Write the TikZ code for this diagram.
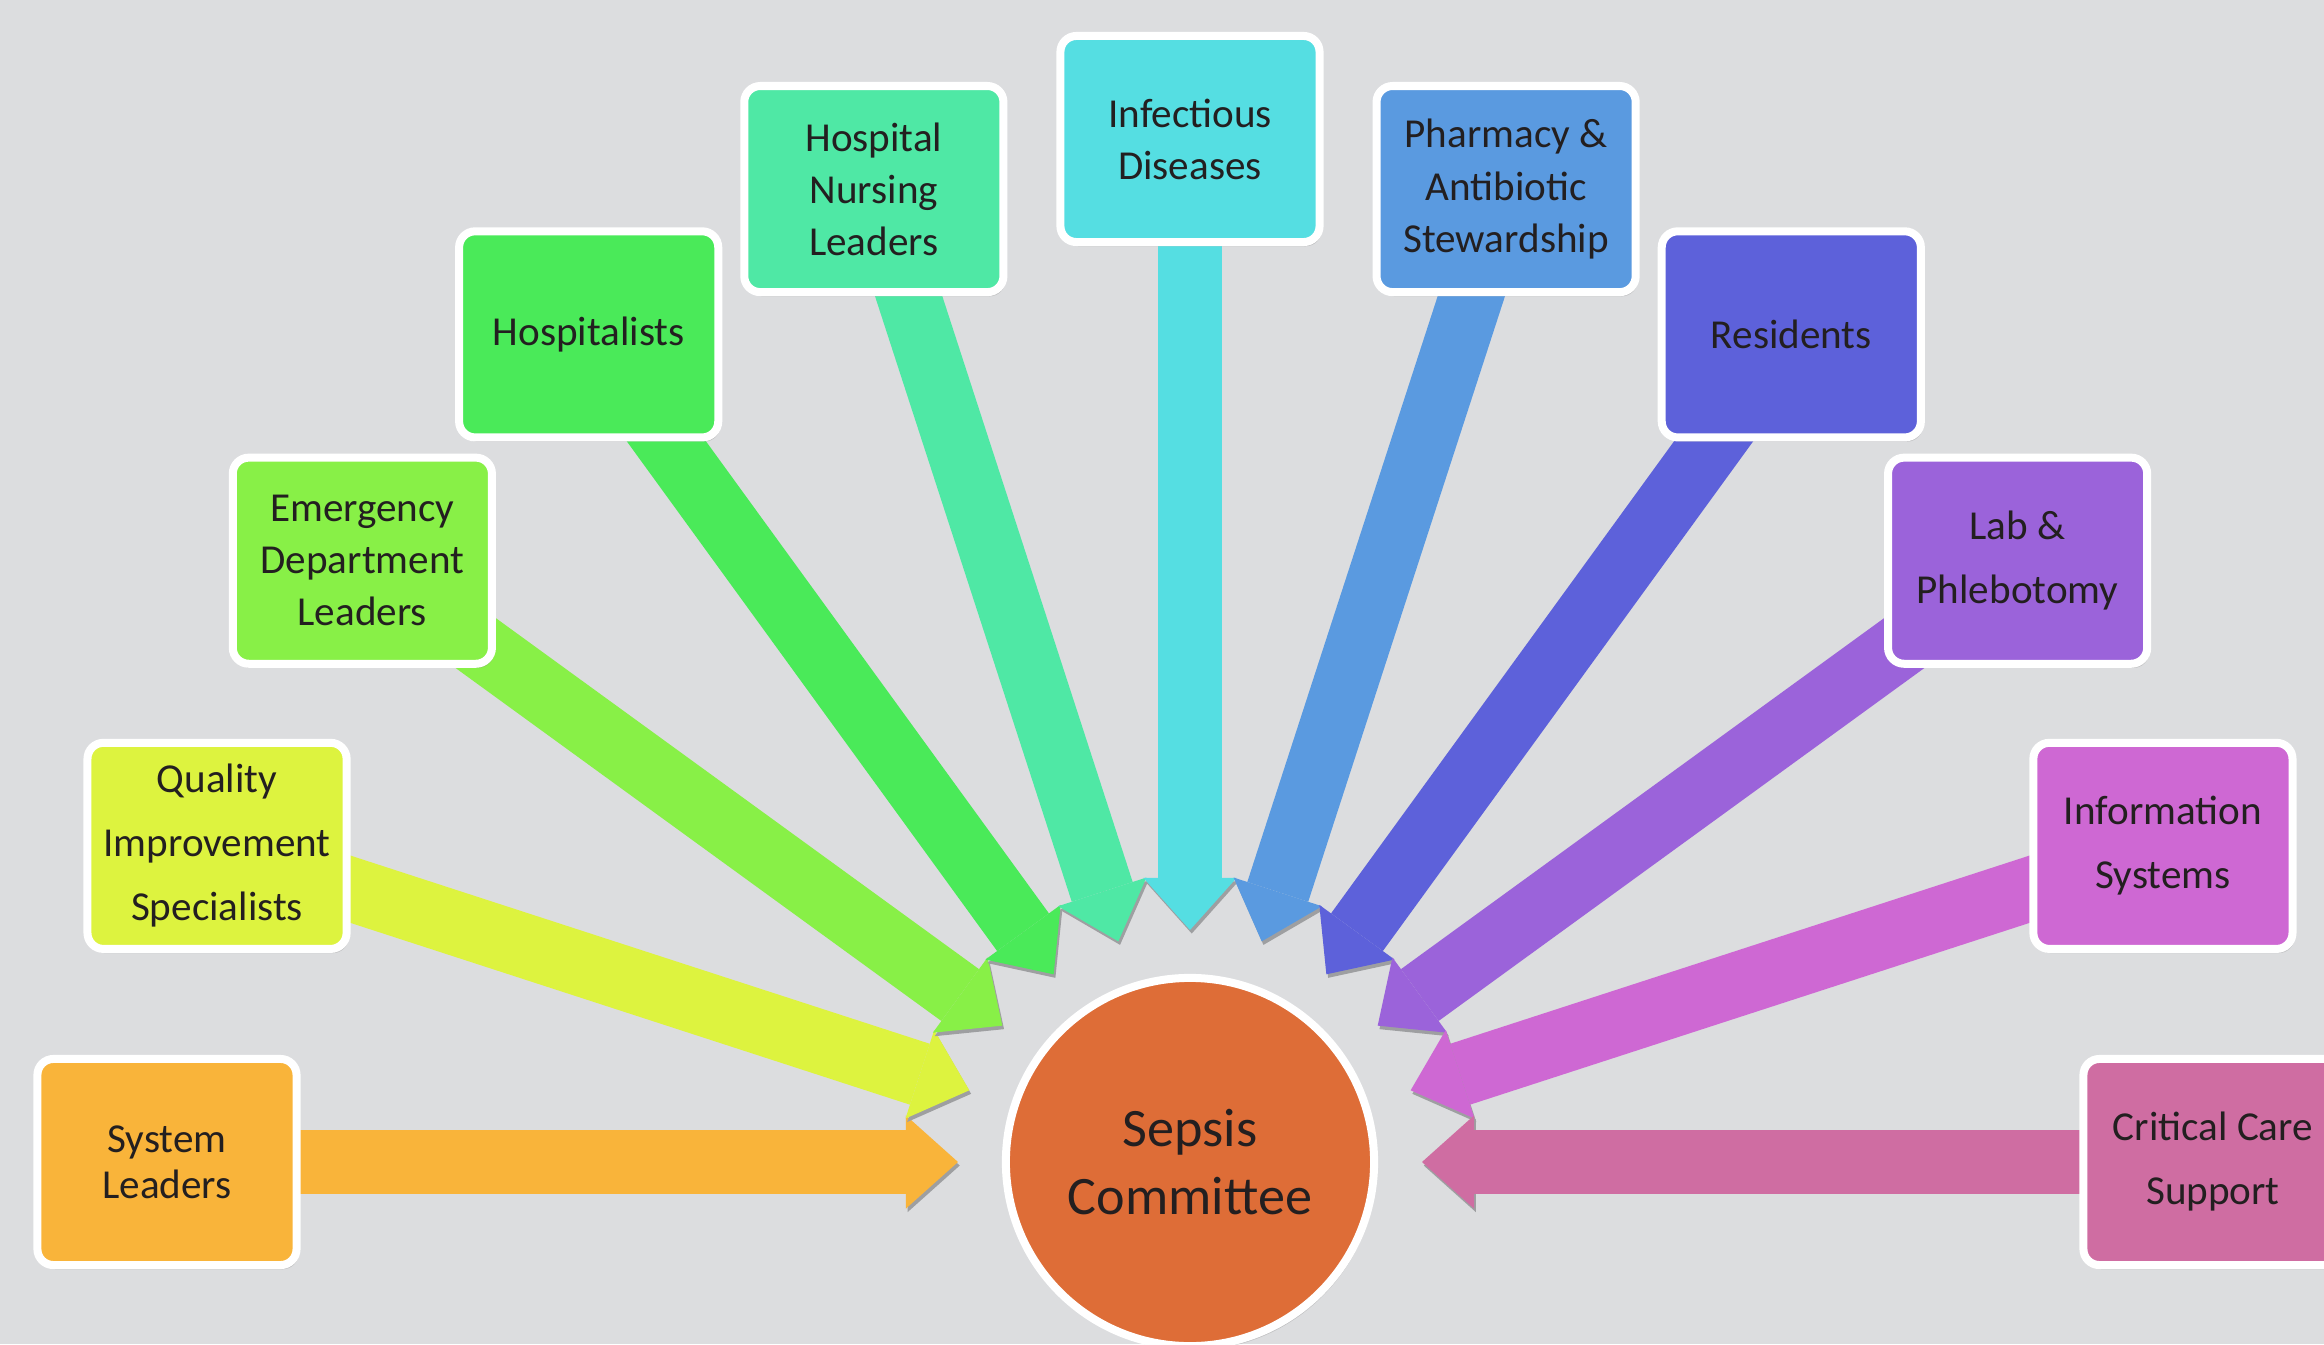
\documentclass[tikz,border=0pt]{standalone}
\usepackage{fontspec}
\setmainfont{Carlito}
\usetikzlibrary{arrows.meta,positioning,calc,shadows,backgrounds}

\definecolor{bgcol}{HTML}{DCDDDF}
\definecolor{txtcol}{HTML}{231F20}
\definecolor{sepsiscol}{HTML}{DE6D37}
\definecolor{syscol}{HTML}{F9B43A}
\definecolor{qualcol}{HTML}{DDF33F}
\definecolor{edcol}{HTML}{88F047}
\definecolor{hospcol}{HTML}{4AEA59}
\definecolor{nurscol}{HTML}{4FE8A5}
\definecolor{infcol}{HTML}{55DEE2}
\definecolor{pharmcol}{HTML}{5A9AE0}
\definecolor{rescol}{HTML}{5D61DA}
\definecolor{labcol}{HTML}{9B63DA}
\definecolor{infocol}{HTML}{CE68D3}
\definecolor{critcol}{HTML}{CF6DA2}

\begin{document}
\begin{tikzpicture}[x=0.01cm,y=0.01cm]
\tikzstyle{group} = [draw=white, line width=0.08cm, rounded corners=0.16cm, minimum width=2.59cm, minimum height=2.06cm, inner sep=0pt, align=center, text=txtcol, font=\fontsize{11.7}{14.8}\selectfont, drop shadow={shadow xshift=0.6pt, shadow yshift=-1.2pt, opacity=.3}]
\tikzstyle{roomy} = [font=\fontsize{11.7}{18.2}\selectfont] % the looser boxes
\tikzset{feed/.style={line width=0.64cm, -{Triangle[length=0.52cm, width=0.93cm, line width=0pt]},
  preaction={draw=bgcol!72!black, transform canvas={shift={(0.5pt,-1pt)}}}}}

\useasboundingbox (-1190,-182) rectangle (1134,1162);

\node[circle, draw=white, line width=0.08cm, fill=sepsiscol, minimum size=3.68cm, inner sep=0pt, align=center, text=txtcol, font=\fontsize{15.4}{19.1}\selectfont, drop shadow={shadow xshift=0.6pt, shadow yshift=-1.2pt, opacity=.3}] (sepsis) at (0,0) {Sepsis\\Committee};

% boxes on a half ring round the committee
\node[group, fill=syscol, font=\fontsize{11.7}{13.1}\selectfont] (sys) at (180:1023) {System\\Leaders};
\node[group, roomy, fill=qualcol] (qual) at (162:1023) {Quality\\Improvement\\Specialists};
\node[group, fill=edcol] (ed) at (144:1023) {Emergency\\Department\\Leaders};
\node[group, fill=hospcol] (hosp) at (126:1023) {Hospitalists};
\node[group, fill=nurscol] (nurs) at (108:1023) {Hospital\\Nursing\\Leaders};
\node[group, fill=infcol] (inf) at (90:1023) {Infectious\\Diseases};
\node[group, fill=pharmcol] (pharm) at (72:1023) {Pharmacy \&\\Antibiotic\\Stewardship};
\node[group, fill=rescol] (res) at (54:1023) {Residents};
\node[group, roomy, fill=labcol] (lab) at (36:1023) {Lab \&\\Phlebotomy};
\node[group, roomy, fill=infocol] (info) at (18:1023) {Information\\Systems};
\node[group, roomy, fill=critcol] (crit) at (0:1023) {Critical Care\\Support};

\begin{scope}[on background layer]
\fill[bgcol] (-1190,-182) rectangle (1134,1162);
\foreach \name/\ang/\col in {sys/180/syscol,qual/162/qualcol,ed/144/edcol,hosp/126/hospcol,nurs/108/nurscol,inf/90/infcol,pharm/72/pharmcol,res/54/rescol,lab/36/labcol,info/18/infocol,crit/0/critcol}{
  \coordinate (\name-tip) at ($(sepsis.center)+(\ang:232)$);
  \draw[feed, color=\col] (\name.center) -- (\name-tip);
}
\end{scope}
\end{tikzpicture}
\end{document}
